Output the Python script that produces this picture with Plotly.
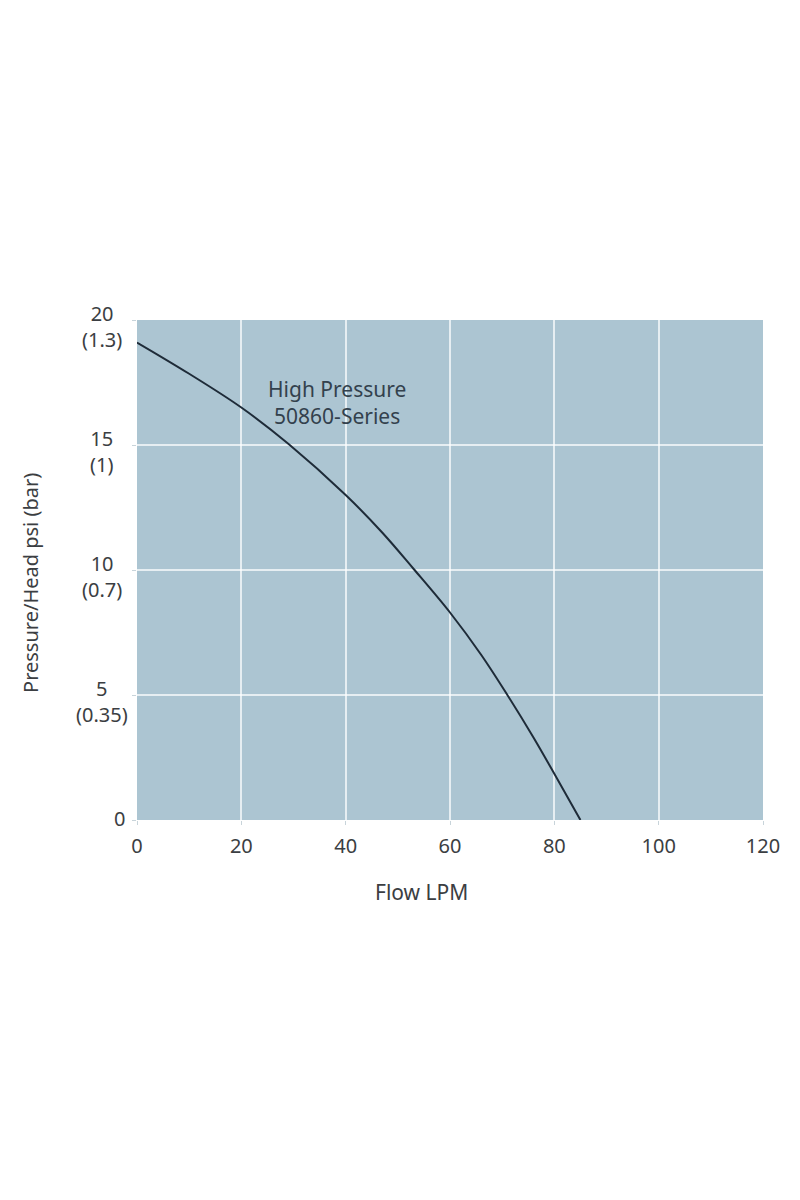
import plotly.graph_objects as go

# --- Data ---
flow_lpm = [0, 10, 20, 29, 40, 47, 53, 60, 66, 71, 76, 80, 85]
pressure_psi = [19.1, 17.85, 16.5, 15.05, 13.0, 11.5, 10.05, 8.3, 6.6, 5.0, 3.3, 1.85, 0]

x_ticks = [0, 20, 40, 60, 80, 100, 120]
y_ticks = [0, 5, 10, 15, 20]
y_ticktext = ["0", "5<br>(0.35)", "10<br>(0.7)", "15<br>(1)", "20<br>(1.3)"]

series_label = "High Pressure<br>50860-Series"

FONT = "Noto Sans"
TEXT = "#3b3e42"

fig = go.Figure()
fig.add_trace(go.Scatter(
    x=flow_lpm, y=pressure_psi, mode="lines",
    line=dict(color="#1e2b38", width=2, shape="spline", smoothing=1.0),
    showlegend=False, hoverinfo="skip",
))

# curve label
fig.add_annotation(
    x=38.3, y=16.7, text=series_label, showarrow=False,
    font=dict(family=FONT, size=21, color="#33414d"), align="center",
)

# y tick labels: two-line ones are centred, the lone "0" sits against the axis
for val, txt in zip(y_ticks, y_ticktext):
    two_line = "<br>" in txt
    fig.add_annotation(
        x=-0.056 if two_line else -0.016, y=val, xref="paper", yref="y",
        text=txt, showarrow=False, align="center",
        xanchor="center" if two_line else "right", yanchor="middle",
        yshift=-6 if two_line else 2,
        font=dict(family=FONT, size=20, color=TEXT),
    )

# axis titles
fig.add_annotation(
    x=0.454, y=-0.144, xref="paper", yref="paper", text="Flow LPM",
    xanchor="center", yanchor="middle",
    showarrow=False, font=dict(family=FONT, size=21, color=TEXT),
)
fig.add_annotation(
    x=-0.171, y=0.474, xref="paper", yref="paper", text="Pressure/Head psi (bar)",
    xanchor="center", yanchor="middle",
    textangle=-90, showarrow=False, font=dict(family=FONT, size=20, color=TEXT),
)

fig.update_layout(
    width=800, height=1200,
    margin=dict(l=129, r=45, t=312, b=388),
    paper_bgcolor="white",
    plot_bgcolor="#acc5d2",
    xaxis=dict(
        range=[0, 120], tickvals=x_ticks, showgrid=True,
        gridcolor="rgba(255,255,255,0.7)", gridwidth=2, zeroline=False,
        ticks="outside", ticklen=4, tickcolor="#c8d4da",
        tickfont=dict(family=FONT, size=20, color=TEXT),
        ticklabelstandoff=4,
    ),
    yaxis=dict(
        range=[0, 20], tickvals=y_ticks, showticklabels=False, showgrid=True,
        gridcolor="rgba(255,255,255,0.7)", gridwidth=2, zeroline=False,
        ticks="outside", ticklen=4, tickcolor="#c8d4da",
    ),
)

fig.write_html("out.html")
